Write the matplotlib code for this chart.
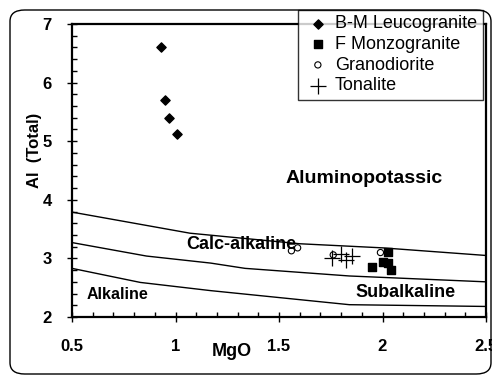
import matplotlib
matplotlib.use("Agg")
import matplotlib.pyplot as plt
from matplotlib.patches import FancyBboxPatch
from matplotlib.ticker import MultipleLocator

plt.rcParams['font.family'] = ['Liberation Sans', 'DejaVu Sans']

# Data
leuco_x = [0.93, 0.95, 0.97, 1.005]
leuco_y = [6.61, 5.70, 5.39, 5.12]
monzo_x = [1.948, 2.028, 2.001, 2.028, 2.04]
monzo_y = [2.86, 3.11, 2.94, 2.93, 2.80]
grano_x = [1.56, 1.59, 1.762, 1.99]
grano_y = [3.13, 3.18, 3.06, 3.10]
tonal_x = [1.756, 1.80, 1.824, 1.853]
tonal_y = [3.01, 3.08, 2.97, 3.04]

# Boundary curves
b1_x = [0.5, 1.07, 1.6, 2.0, 2.5]
b1_y = [3.79, 3.43, 3.25, 3.18, 3.05]
b2_x = [0.5, 0.86, 1.17, 1.336, 1.84, 2.5]
b2_y = [3.27, 3.04, 2.92, 2.83, 2.70, 2.60]
b3_x = [0.5, 0.83, 1.17, 1.84, 2.5]
b3_y = [2.83, 2.59, 2.45, 2.21, 2.18]

fig = plt.figure(figsize=(4.92, 3.76), dpi=100)
fig.patch.set_facecolor('white')

# Rounded chart-area border
border = FancyBboxPatch((10/492, 2/376), 481/492, 364/376,
                        boxstyle="round,pad=0,rounding_size=0.03",
                        transform=fig.transFigure, fill=False,
                        edgecolor='black', linewidth=1.0)
fig.patches.append(border)

ax = fig.add_axes([72/492, 1 - 317/376, 414/492, 293/376])
ax.set_xlim(0.5, 2.5)
ax.set_ylim(2, 7)

for xs, ys in [(b1_x, b1_y), (b2_x, b2_y), (b3_x, b3_y)]:
    ax.plot(xs, ys, color='black', linewidth=1.0)

ax.scatter(leuco_x, leuco_y, marker='D', s=22, color='black', label='B-M Leucogranite', zorder=3)
ax.scatter(monzo_x, monzo_y, marker='s', s=36, color='black', label='F Monzogranite', zorder=3)
ax.scatter(grano_x, grano_y, marker='o', s=20, facecolors='none', edgecolors='black',
           linewidths=0.8, label='Granodiorite', zorder=3)
ax.scatter(tonal_x, tonal_y, marker='+', s=120, color='black', linewidths=0.9,
           label='Tonalite', zorder=3)

ax.text(1.91, 4.37, 'Aluminopotassic', fontsize=14, fontweight='bold', ha='center', va='center')
ax.text(1.32, 3.23, 'Calc-alkaline', fontsize=13, fontweight='bold', ha='center', va='center')
ax.text(0.72, 2.38, 'Alkaline', fontsize=11.5, fontweight='bold', ha='center', va='center')
ax.text(2.11, 2.42, 'Subalkaline', fontsize=13, fontweight='bold', ha='center', va='center')

ax.xaxis.set_major_locator(MultipleLocator(0.5))
ax.xaxis.set_minor_locator(MultipleLocator(0.1))
ax.yaxis.set_major_locator(MultipleLocator(1))
ax.yaxis.set_minor_locator(MultipleLocator(0.2))
ax.set_xticks([0.5, 1, 1.5, 2, 2.5])
ax.set_xticklabels(['0.5', '1', '1.5', '2', '2.5'])
ax.tick_params(which='major', direction='inout', length=7, width=1.0, labelsize=12)
ax.tick_params(axis='x', which='major', pad=12)
ax.tick_params(axis='y', which='major', pad=11)
ax.tick_params(which='minor', direction='in', length=3.5, width=1.0)
for lab in ax.get_xticklabels() + ax.get_yticklabels():
    lab.set_fontweight('bold')
for s in ax.spines.values():
    s.set_linewidth(1.6)

fig.text(232/492, 1 - 351/376, 'MgO', fontsize=13, fontweight='bold', ha='center', va='center')
fig.text(35/492, 1 - 150/376, 'Al  (Total)', fontsize=12, fontweight='bold', ha='center',
         va='center', rotation=90)

leg = ax.legend(loc='upper left', bbox_to_anchor=(298/492, 1 - 10/376),
                bbox_transform=fig.transFigure, frameon=True, fancybox=False,
                edgecolor='black', fontsize=13, handlelength=1.6, handletextpad=0.15,
                labelspacing=0.2, borderpad=0.3, borderaxespad=0)
leg.get_frame().set_linewidth(1.0)
leg.set_zorder(10)

fig.savefig('out.png', dpi=100)
